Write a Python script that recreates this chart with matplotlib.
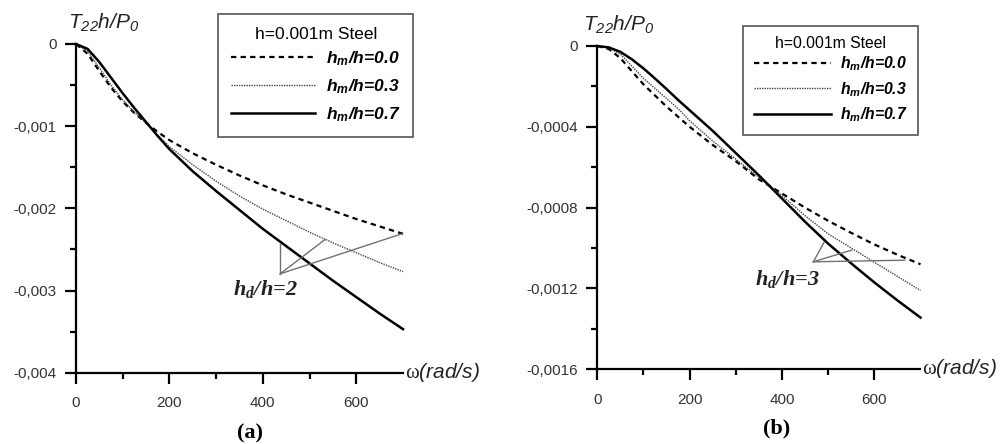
import matplotlib
matplotlib.use("Agg")
import matplotlib.pyplot as plt

plt.rcParams['font.family'] = ['Liberation Sans', 'DejaVu Sans']
plt.rcParams['mathtext.fontset'] = 'custom'
plt.rcParams['mathtext.rm'] = 'Liberation Serif'
plt.rcParams['mathtext.it'] = 'Liberation Sans:italic'
plt.rcParams['mathtext.cal'] = 'Liberation Sans:italic'
plt.rcParams['mathtext.bf'] = 'Liberation Sans:italic:bold'
plt.rcParams['mathtext.sf'] = 'Liberation Serif:italic:bold'

# ---------------- data ----------------
omega = [0, 25, 50, 75, 100, 125, 150, 175, 200, 250, 300, 350, 400, 450, 500, 550, 600, 650, 700]

# panel (a): h_d/h = 2
a_hm00 = [0, -0.00012, -0.00033, -0.00053, -0.00070, -0.00084, -0.00096, -0.00107, -0.00117, -0.00133,
          -0.00147, -0.00160, -0.00172, -0.00183, -0.00193, -0.00203, -0.00213, -0.00222, -0.00231]
a_hm03 = [0, -0.00009, -0.00029, -0.00050, -0.00068, -0.00083, -0.00096, -0.00111, -0.00125, -0.00147,
          -0.00167, -0.00185, -0.00201, -0.00215, -0.00229, -0.00242, -0.00254, -0.00266, -0.00277]
a_hm07 = [0, -0.00006, -0.00022, -0.00041, -0.00060, -0.00078, -0.00095, -0.00112, -0.00128, -0.00155,
          -0.00179, -0.00202, -0.00225, -0.00246, -0.00267, -0.00288, -0.00308, -0.00328, -0.00347]

# panel (b): h_d/h = 3
b_hm00 = [0, -0.000015, -0.00006, -0.000125, -0.00019, -0.000245, -0.00030, -0.00035, -0.00040, -0.00049,
          -0.00057, -0.00066, -0.00073, -0.00080, -0.000865, -0.000925, -0.000982, -0.001033, -0.00108]
b_hm03 = [0, -0.00001, -0.00004, -0.00010, -0.00016, -0.00021, -0.00026, -0.00031, -0.00037, -0.00047,
          -0.00056, -0.00065, -0.00074, -0.00084, -0.00093, -0.00100, -0.00107, -0.00114, -0.00121]
b_hm07 = [0, -0.000007, -0.000029, -0.000066, -0.000111, -0.000161, -0.000213, -0.000267, -0.000318, -0.00042,
          -0.00053, -0.00064, -0.000755, -0.00087, -0.000978, -0.001076, -0.00117, -0.001259, -0.001344]

# annotation pointer lines (origin then targets on curves)
a_ptr_x = [437, 437, 533, 698]
a_ptr_y = [-0.002797, -0.00243, -0.00238, -0.002309]
b_ptr_x = [468, 491, 551, 666]
b_ptr_y = [-0.001068, -0.000972, -0.00101, -0.00106]

xticks = [0, 200, 400, 600]
xtick_labels = ['0', '200', '400', '600']
xminor = [100, 300, 500]
a_yticks = [0, -0.001, -0.002, -0.003, -0.004]
a_ytick_labels = ['0', '-0,001', '-0,002', '-0,003', '-0,004']
a_yminor = [-0.0005, -0.0015, -0.0025, -0.0035]
b_yticks = [0, -0.0004, -0.0008, -0.0012, -0.0016]
b_ytick_labels = ['0', '-0,0004', '-0,0008', '-0,0012', '-0,0016']
b_yminor = [-0.0002, -0.0006, -0.0010, -0.0014]

series_labels = [r'$\mathbf{h_m}$/h=0.0', r'$\mathbf{h_m}$/h=0.3', r'$\mathbf{h_m}$/h=0.7']
legend_title = 'h=0.001m Steel'

W, H = 1004, 444
fig = plt.figure(figsize=(W / 100, H / 100), dpi=100)

def px(x, y):
    return x / W, 1 - y / H

def setup(ax, yticks, ylabels, yminor, ylim):
    ax.set_xlim(0, 700)
    ax.set_ylim(*ylim)
    for s in ['top', 'right']:
        ax.spines[s].set_visible(False)
    for s in ['left', 'bottom']:
        ax.spines[s].set_linewidth(1.6)
    ax.set_xticks(xticks, labels=xtick_labels)
    ax.set_xticks(xminor, minor=True)
    ax.set_yticks(yticks, labels=ylabels)
    ax.set_yticks(yminor, minor=True)
    ax.tick_params(axis='both', which='major', length=8, width=1.6, direction='out',
                   labelsize=11, labelcolor='#333333')
    ax.tick_params(axis='both', which='minor', length=4, width=1.6, direction='out')
    ax.tick_params(axis='x', which='major', pad=9)
    ax.tick_params(axis='y', which='major', pad=6)

def draw(ax, y0, y3, y7):
    ax.plot(omega, y0, color='black', lw=1.6, dashes=(2.4, 1.9), clip_on=False, label=series_labels[0])
    ax.plot(omega, y3, color='#444444', lw=1.0, dashes=(1, 0.8), clip_on=False, label=series_labels[1])
    ax.plot(omega, y7, color='black', lw=1.8, clip_on=False, label=series_labels[2])

def ptr(ax, xs, ys):
    for i in range(1, len(xs)):
        ax.plot([xs[0], xs[i]], [ys[0], ys[i]], color='#707070', lw=1.0)

def legend(ax, anchor, size, hl, htp, ls, bp, sep):
    lg = ax.legend(loc='upper left', bbox_to_anchor=anchor, bbox_transform=fig.transFigure,
                   borderaxespad=0, title=legend_title,
                   title_fontproperties={'size': size, 'family': 'Liberation Sans'},
                   prop={'size': size, 'weight': 'bold', 'style': 'italic', 'family': 'Liberation Sans'},
                   handlelength=hl, handletextpad=htp, labelspacing=ls, borderpad=bp,
                   fancybox=False, framealpha=1, edgecolor='#555555')
    lg.get_frame().set_linewidth(1.2)
    lg._legend_box.sep = sep
    return lg

# ---- panel (a)
axa = fig.add_axes([76 / W, 1 - 372.7 / H, (403 - 76) / W, (372.7 - 44) / H])
setup(axa, a_yticks, a_ytick_labels, a_yminor, (-0.004, 0))
draw(axa, a_hm00, a_hm03, a_hm07)
ptr(axa, a_ptr_x, a_ptr_y)
legend(axa, px(218.3, 14), 12.5, 4.8, 0.65, 0.55, 0.75, 5)

# ---- panel (b)
axb = fig.add_axes([597.3 / W, 1 - 369.3 / H, (920.5 - 597.3) / W, (369.3 - 46) / H])
setup(axb, b_yticks, b_ytick_labels, b_yminor, (-0.0016, 0))
draw(axb, b_hm00, b_hm03, b_hm07)
ptr(axb, b_ptr_x, b_ptr_y)
legend(axb, px(743.3, 25.7), 11.3, 4.9, 0.55, 0.45, 0.68, 2)

# ---- texts
fig.text(*px(68, 28.5), r'$\mathcal{T_{22}h/P_0}$', fontsize=15, ha='left', va='baseline', color='#222222')
fig.text(*px(583, 31), r'$\mathcal{T_{22}h/P_0}$', fontsize=15, ha='left', va='baseline', color='#222222')
fig.text(*px(405, 378), r'$\mathrm{\omega}\mathcal{(rad/s)}$', fontsize=15, ha='left', va='baseline', color='#222222')
fig.text(*px(921.7, 374), r'$\mathrm{\omega}\mathcal{(rad/s)}$', fontsize=15, ha='left', va='baseline', color='#222222')
serif_bi = dict(family='Liberation Serif', fontweight='bold', style='italic')
fig.text(*px(233.3, 295), r'$\mathsf{h_d}$/h=2', fontsize=16, ha='left', va='baseline', color='#222222', **serif_bi)
fig.text(*px(755, 285), r'$\mathsf{h_d}$/h=3', fontsize=16, ha='left', va='baseline', color='#222222', **serif_bi)
fig.text(*px(250, 433), '(a)', fontsize=16, ha='center', va='center', fontweight='bold',
         family='Liberation Serif')
fig.text(*px(776.7, 428), '(b)', fontsize=16, ha='center', va='center', fontweight='bold',
         family='Liberation Serif')

fig.savefig('out.png', dpi=100)
